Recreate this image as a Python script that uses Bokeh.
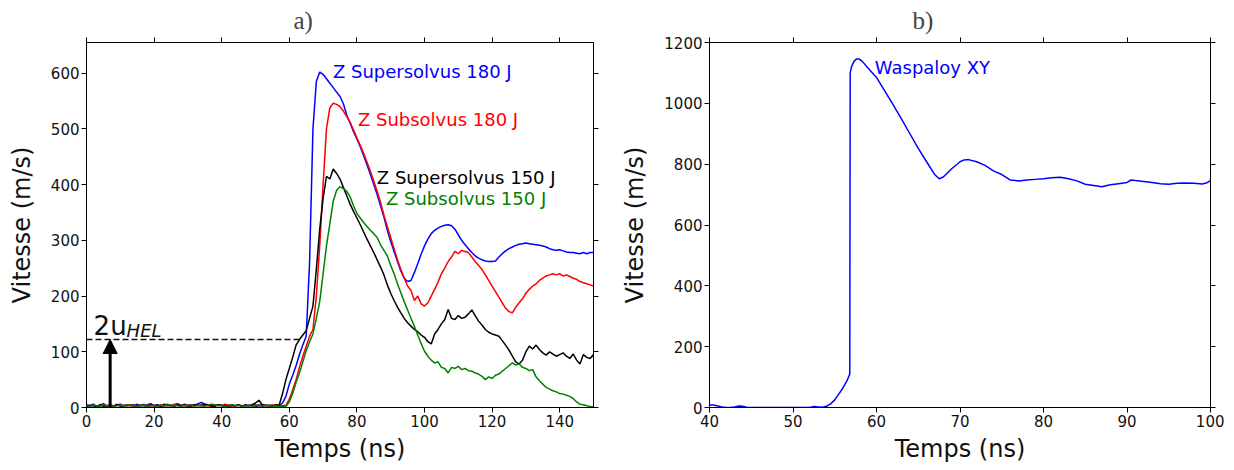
from bokeh.plotting import figure
from bokeh.layouts import row
from bokeh.models import (Range1d, LinearAxis, FixedTicker, Label, Arrow, NormalHead,
                          CustomLabelingPolicy)
from bokeh.embed import file_html
from bokeh.resources import INLINE

# ---------------- data: panel a) ----------------
time_a = list(range(151))

super_180 = [5,3,6,2,4,7,3,5,2,4, 6,3,5,4,2,6,3,4,5,7, 3,5,2,4,6,3,5,4,3,6,
             4,5,3,7,9,6,5,3,4,5, 3,2,4,5,3,4,2,5,3,4, 2,3,5,4,3,2,4,3,
             8,20,42,58,75,95,112,128,260,500,
             585,602,598,590,582,574,566,558,545,525,
             510,495,482,468,452,435,418,400,382,362,
             342,318,298,280,262,245,232,226,228,242,
             258,275,290,302,312,318,322,325,327,328,
             326,320,310,300,292,285,278,272,268,265,
             263,262,262,263,270,276,281,285,288,291,
             293,294,295,294,293,292,291,290,288,285,
             283,282,283,281,279,278,278,277,276,278,
             276,278,278]

sub_180 = [3,2,4,1,3,5,2,4,3,6, 2,4,3,5,2,3,4,6,3,2, 4,3,5,2,4,3,6,7,4,3,
           5,2,4,3,5,4,3,2,5,4, 3,6,4,2,3,5,3,2,4,3, 5,3,2,4,3,5,2,3,
           3,4,15,32,50,72,92,110,128,140,
           200,290,400,500,538,546,544,540,532,522,
           512,498,484,470,456,440,424,406,388,368,
           345,325,305,285,265,248,232,218,210,192,
           200,186,182,188,200,212,225,240,250,262,
           270,280,276,282,280,278,270,262,255,248,
           238,228,218,208,198,188,178,172,170,180,
           188,195,205,212,218,222,228,232,236,238,
           240,238,240,236,238,235,232,230,226,224,
           222,220,218]

super_150 = [2,4,3,1,5,2,3,4,2,5, 3,2,4,3,5,2,4,3,2,5, 3,4,2,6,3,4,2,5,3,4,
             2,3,5,4,3,6,4,3,2,5, 4,3,2,4,3,5,2,4,3,5, 8,13,5,3,4,2,5,4,
             25,50,70,90,112,122,130,138,160,182,
             248,320,375,415,410,428,420,410,395,380,
             365,352,340,328,315,302,290,278,265,252,
             238,220,205,192,180,170,160,152,146,140,
             136,130,126,118,114,132,140,150,158,176,
             160,158,165,160,162,168,175,165,155,148,
             140,135,132,130,128,120,112,103,92,82,
             78,85,100,110,105,112,104,98,94,100,
             96,92,95,98,92,88,96,85,78,95,
             90,88,95]

sub_150 = [3,2,4,3,2,5,3,4,2,3, 4,2,5,3,4,2,3,5,2,4, 3,2,4,3,5,2,4,3,2,4,
           3,5,2,4,3,2,4,6,5,3, 4,2,3,5,3,4,2,3,4,2, 3,5,2,4,3,2,3,2,
           2,2,10,25,45,62,82,102,118,132,
           160,190,240,290,330,370,390,396,393,388,
           378,362,348,340,332,325,318,312,305,292,
           282,272,255,240,222,206,190,175,160,146,
           130,115,101,92,85,80,82,72,70,62,
           72,70,74,68,70,66,65,62,60,56,
           50,55,52,58,60,65,70,75,80,76,
           78,72,70,66,68,55,48,42,36,33,
           30,28,25,24,22,20,16,10,6,5,
           3,2,1]

series_a = [
    ("Z Supersolvus 180 J", super_180, "#0000ff", 72.9, 603),
    ("Z Subsolvus 180 J", sub_180, "#ff0000", 80.3, 517),
    ("Z Supersolvus 150 J", super_150, "#000000", 85.9, 413),
    ("Z Subsolvus 150 J", sub_150, "#008000", 88.6, 375),
]

hel_velocity = 122
hel_line_end = 63
arrow_time = 7

# ---------------- data: panel b) ----------------
time_b = [40, 40.5, 41, 41.5, 42, 42.5, 43, 43.5, 44, 44.5, 45, 46, 48, 50, 52,
          52.5, 53, 53.5, 54, 54.5, 55, 55.5, 56, 56.5, 56.8, 56.85, 57, 57.3,
          57.6, 57.9, 58.3, 59, 60, 61, 62, 63, 64, 65, 66, 67, 67.5, 68, 69,
          70, 70.5, 71, 72, 73, 74, 75, 76, 77, 78, 79, 80, 81, 82, 83, 84, 85,
          86, 87, 88, 89, 90, 90.5, 91, 92, 93, 94, 95, 96, 97, 98, 99, 99.5, 100]
waspaloy = [8, 8, 5, 2, 0, 0, 2, 5, 4, 0, 0, 0, 0, 0, 0,
            3, 2, 1, 4, 12, 25, 45, 65, 90, 110, 1100, 1120, 1138,
            1146, 1146, 1138, 1115, 1085, 1040, 995, 948, 900, 852, 808, 765, 752, 758, 785,
            808, 814, 815, 808, 796, 778, 766, 748, 745, 748, 750, 752, 755, 757, 752, 745, 734,
            730, 726, 732, 736, 740, 748, 746, 743, 740, 736, 734, 737, 738, 737, 735, 738, 746]

FONT = "DejaVu Sans"
H = 465


def make_fig(title, width, xr, yr, xticks, yticks, bl, br, title_offset):
    p = figure(width=width, height=H, x_range=Range1d(*xr), y_range=Range1d(*yr),
               output_backend="svg", toolbar_location=None,
               x_axis_label="Temps (ns)", y_axis_label="Vitesse (m/s)",
               min_border_left=bl, min_border_right=br,
               min_border_top=42, min_border_bottom=58)
    p.add_layout(LinearAxis(), "above")
    p.add_layout(LinearAxis(), "right")
    p.grid.visible = False
    p.outline_line_color = "black"
    p.outline_line_width = 1
    p.background_fill_color = "white"
    p.border_fill_color = "white"
    for ax in p.xaxis:
        ax.ticker = FixedTicker(ticks=xticks)
    for ax in p.yaxis:
        ax.ticker = FixedTicker(ticks=yticks)
    for ax in p.axis:
        ax.major_tick_out = 5
        ax.major_tick_in = 0
        ax.minor_tick_out = 0
        ax.minor_tick_in = 0
        ax.axis_line_color = "black"
        ax.major_tick_line_color = "black"
        ax.major_label_text_font = FONT
        ax.major_label_text_font_size = "15px"
        ax.major_label_text_color = "#111111"
        ax.major_label_standoff = 2
        ax.axis_label_text_font = FONT
        ax.axis_label_text_font_size = "24px"
        ax.axis_label_text_font_style = "normal"
        ax.axis_label_text_color = "#111111"
    for ax in (p.above[0], p.right[0]):
        ax.major_label_policy = CustomLabelingPolicy(code="return new Set()")
        ax.major_label_text_font_size = "1px"
        ax.major_label_standoff = 0
    p.xaxis[0].axis_label_standoff = 4
    p.yaxis[0].axis_label_standoff = 12
    p.title.text = title
    p.title.text_font = "Liberation Serif"
    p.title.text_font_size = "25px"
    p.title.text_font_style = "normal"
    p.title.align = "left"
    p.title.offset = 207 if title == "a)" else title_offset
    p.title.standoff = 0
    return p


pa = make_fig("a)", 618, (0, 150), (0, 655), list(range(0, 141, 20)),
              list(range(0, 601, 100)), 86, 25, 205)

for name, vals, col, tx, ty in series_a:
    pa.line(time_a, vals, line_color=col, line_width=1.5)

for name, vals, col, tx, ty in series_a:
    pa.add_layout(Label(x=tx, y=ty, text=name, text_color=col, text_font=FONT,
                        text_font_size="18px", text_baseline="middle", text_align="left"))

pa.line([0, hel_line_end], [hel_velocity, hel_velocity], line_color="#111111",
        line_width=1.5, line_dash="6 3")
pa.add_layout(Arrow(end=NormalHead(size=14, fill_color="black", line_color="black"),
                    x_start=arrow_time, y_start=0, x_end=arrow_time, y_end=hel_velocity,
                    line_color="black", line_width=3))
pa.add_layout(Label(x=2.1, y=135, y_offset=6, text="2u", text_font=FONT, text_font_size="26px",
                    text_baseline="alphabetic", text_color="#111111"))
pa.add_layout(Label(x=2.1, y=135, x_offset=33, y_offset=2, text="HEL", text_font=FONT,
                    text_font_size="18px", text_font_style="italic",
                    text_baseline="alphabetic", text_color="#111111"))

pb = make_fig("b)", 606, (40, 100), (0, 1200), list(range(40, 101, 10)),
              list(range(0, 1201, 200)), 90, 14, 203)
pb.line(time_b, waspaloy, line_color="#0000ff", line_width=1.5)
pb.add_layout(Label(x=59.8, y=1118, text="Waspaloy XY", text_color="#0000ff",
                    text_font=FONT, text_font_size="18px", text_baseline="middle"))

layout = row(pa, pb)
open("out.html", "w").write(file_html(layout, INLINE))
